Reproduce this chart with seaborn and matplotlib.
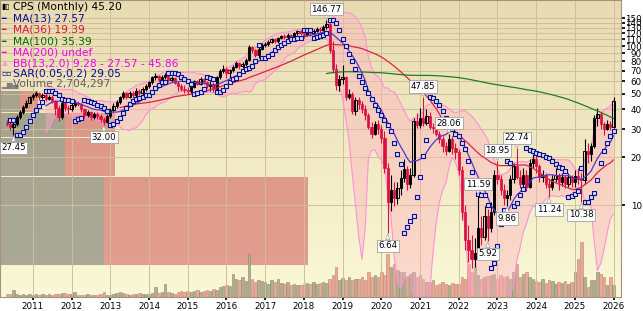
import numpy as np
import pandas as pd
import matplotlib
matplotlib.use("Agg")
import matplotlib.pyplot as plt
import seaborn as sns
from matplotlib.ticker import FixedLocator, NullLocator, FixedFormatter

sns.set_theme(style="white")
plt.rcParams["font.family"] = ["DejaVu Sans"]

# ---------------- data (monthly, starting May 2010) ----------------
start_month = "2010-05"
first_open = 33.0
close = [
    32.5, 31.0, 32.5, 36.0, 38.5, 41.5, 44.0, 47.5,
    49.0, 50.5, 47.5, 49.5, 46.5, 48.0, 45.0, 41.0, 36.0, 43.5, 41.0, 40.0,
    42.5, 44.0, 43.0, 40.0, 37.0, 38.5, 36.0, 37.5, 36.5, 35.0, 33.5, 36.5,
    39.5, 42.0, 44.5, 47.5, 50.5, 48.0, 51.0, 49.0, 52.5, 50.5, 53.5, 56.0,
    59.0, 63.5, 65.0, 61.0, 64.0, 65.5, 61.0, 63.0, 58.5, 56.0, 54.0, 53.0,
    52.0, 55.5, 60.0, 58.0, 62.0, 59.0, 56.0, 58.0, 54.0, 63.5, 70.0, 72.0,
    68.0, 70.5, 74.0, 78.0, 75.0, 77.0, 82.0, 98.0, 94.0, 88.0, 96.0, 101.0,
    103.0, 106.0, 110.0, 108.0, 112.0, 116.0, 114.0, 118.0, 115.0, 120.0, 124.0, 121.0,
    118.0, 123.0, 120.0, 125.0, 128.0, 126.0, 131.0, 137.0, 94.0, 72.0, 57.0, 62.0,
    64.0, 48.0, 50.0, 39.0, 46.0, 43.0, 40.0, 37.0, 31.0, 28.0, 32.5, 30.0,
    26.5, 17.0, 10.4, 12.4, 11.0, 12.8, 14.8, 16.8, 13.5, 15.5, 34.0, 32.0,
    35.5, 33.0, 36.5, 31.0, 30.5, 28.0, 26.0, 23.5, 22.0, 26.0, 23.0, 21.5,
    16.5, 9.0, 6.0, 5.2, 4.6, 5.0, 7.2, 6.3, 8.5, 7.2, 9.0, 15.5,
    14.5, 12.5, 11.0, 11.5, 14.5, 17.5, 15.0, 13.5, 15.5, 13.0, 18.5, 19.5,
    17.5, 15.0, 15.5, 13.5, 13.0, 14.5, 15.5, 14.0, 15.0, 13.5, 15.0, 14.0,
    15.2, 14.8, 14.3, 22.0, 21.0, 23.5, 35.5, 37.5, 32.5, 30.0, 32.5, 31.0,
    45.2,
]
high = [
    34.5, 33.5, 33.5, 37.0, 39.5, 42.5, 45.5, 48.5,
    51.0, 52.5, 51.5, 51.0, 50.5, 49.5, 49.5, 46.0, 42.5, 45.5, 45.0, 42.5,
    43.5, 45.5, 45.0, 44.0, 40.5, 39.5, 39.0, 38.5, 38.5, 37.5, 36.0, 37.5,
    40.5, 43.5, 46.0, 48.5, 52.0, 51.5, 52.5, 52.0, 54.5, 54.0, 55.0, 57.5,
    60.5, 65.0, 68.0, 66.0, 65.5, 67.5, 66.5, 64.5, 64.0, 60.0, 57.5, 56.5,
    55.0, 57.0, 61.0, 61.5, 63.5, 63.0, 60.0, 60.0, 59.0, 65.0, 72.0, 76.0,
    73.5, 72.0, 75.5, 80.5, 79.5, 79.0, 84.0, 101.0, 100.0, 96.0, 98.5, 104.0,
    106.0, 109.0, 113.0, 112.0, 114.0, 118.0, 118.5, 120.0, 119.5, 122.0, 127.0, 126.0,
    127.0, 126.0, 127.0, 128.0, 131.0, 132.0, 135.0, 146.77, 139.0, 107.0, 77.0, 66.0,
    76.0, 65.0, 54.0, 51.5, 48.0, 47.5, 45.0, 42.5, 38.0, 33.5, 34.0, 34.5,
    32.0, 29.0, 18.5, 15.5, 14.0, 14.0, 16.5, 19.5, 17.5, 17.0, 35.5, 38.0,
    41.0, 47.85, 40.0, 38.5, 33.0, 31.5, 29.0, 27.0, 25.0, 28.06, 27.0, 24.5,
    22.5, 17.5, 10.0, 7.5, 6.5, 6.2, 11.59, 8.5, 9.8, 9.5, 10.5, 16.5,
    18.95, 15.5, 13.5, 12.5, 15.5, 18.5, 22.74, 16.5, 17.0, 16.5, 19.5, 21.0,
    20.5, 18.0, 16.5, 16.0, 14.5, 15.5, 17.0, 16.0, 15.8, 15.5, 16.0, 15.5,
    16.5, 17.0, 16.0, 26.0, 24.5, 24.5, 37.0, 41.0, 38.5, 33.5, 34.5, 34.0,
    48.0,
]
low = [
    31.5, 29.5, 27.45, 31.5, 35.0, 37.5, 40.5, 43.5,
    46.0, 47.5, 45.5, 46.5, 45.0, 45.5, 44.0, 37.0, 34.0, 35.0, 39.0, 37.5,
    39.0, 41.5, 42.0, 38.5, 35.5, 36.0, 34.5, 35.0, 35.0, 33.5, 32.0, 33.0,
    35.5, 38.5, 41.0, 43.0, 46.5, 46.5, 47.0, 47.0, 48.0, 49.0, 49.5, 52.5,
    54.5, 57.5, 61.5, 59.0, 60.0, 62.0, 59.5, 59.5, 57.5, 52.5, 52.5, 50.5,
    50.0, 51.0, 54.5, 56.5, 57.0, 57.5, 54.5, 52.5, 51.5, 53.0, 62.0, 67.5,
    62.5, 63.0, 69.0, 72.5, 72.0, 73.0, 75.0, 80.0, 91.0, 85.0, 84.0, 94.5,
    98.0, 100.5, 104.0, 104.0, 105.0, 110.0, 110.5, 111.0, 112.0, 113.0, 118.0, 118.0,
    113.0, 115.0, 116.0, 117.0, 122.0, 121.0, 124.0, 128.0, 90.0, 68.0, 53.0, 52.0,
    58.0, 46.0, 46.5, 37.5, 37.0, 40.0, 38.0, 34.5, 30.0, 26.5, 27.5, 28.0,
    24.5, 16.0, 6.64, 9.2, 9.8, 10.2, 11.5, 14.0, 12.5, 12.8, 15.0, 30.5,
    30.5, 31.5, 32.0, 30.0, 28.5, 27.0, 24.5, 21.5, 20.5, 21.5, 21.0, 19.5,
    15.5, 8.0, 5.2, 4.4, 4.0, 4.1, 4.6, 5.6, 6.0, 5.92, 6.8, 8.6,
    13.5, 11.5, 10.0, 9.86, 10.8, 13.8, 14.5, 12.8, 13.0, 12.2, 12.8, 17.0,
    16.0, 14.0, 14.0, 12.8, 11.24, 12.5, 14.0, 12.5, 13.2, 12.8, 13.0, 13.0,
    13.0, 13.5, 10.38, 13.5, 18.5, 19.0, 23.0, 31.5, 30.0, 27.5, 29.5, 29.5,
    30.5,
]
volume_m = [  # millions of shares
    0.68, 0.68, 1.58, 0.68, 0.45, 0.68, 0.45, 0.68,
    0.45, 0.68, 0.45, 0.68, 0.45, 0.68, 0.45, 0.68, 0.68, 0.90, 0.90, 0.68,
    0.68, 1.13, 0.45, 0.45, 0.45, 0.68, 0.45, 0.45, 0.45, 0.68, 1.13, 0.45,
    0.45, 0.68, 0.90, 1.13, 0.90, 0.68, 0.45, 0.68, 0.68, 0.90, 0.68, 0.68,
    0.68, 0.90, 2.25, 0.90, 1.13, 2.93, 1.13, 0.90, 0.68, 1.13, 1.35, 1.13,
    1.35, 1.13, 1.35, 1.58, 1.13, 1.35, 1.58, 1.35, 1.80, 1.58, 2.25, 2.48,
    2.70, 2.48, 5.18, 4.05, 3.83, 4.50, 3.60, 9.68, 4.05, 3.38, 3.83, 3.60,
    3.38, 2.93, 3.83, 3.38, 4.05, 3.15, 2.93, 3.38, 2.70, 2.93, 2.70, 2.70,
    2.93, 3.15, 2.93, 3.38, 2.93, 3.15, 3.38, 3.15, 4.05, 4.95, 6.75, 3.83,
    4.28, 3.83, 4.50, 3.83, 4.05, 4.05, 4.50, 3.83, 5.63, 4.50, 4.95, 4.50,
    5.63, 4.95, 9.68, 6.75, 7.43, 6.08, 5.63, 5.63, 4.50, 5.18, 5.63, 4.50,
    4.95, 4.05, 3.38, 3.38, 3.83, 2.70, 2.93, 3.38, 2.93, 2.70, 3.15, 2.93,
    2.93, 4.50, 4.05, 7.43, 5.63, 6.75, 4.95, 4.05, 4.50, 4.73, 4.95, 5.18,
    4.05, 4.95, 4.50, 4.73, 4.05, 5.63, 7.43, 4.50, 5.18, 5.63, 4.50, 4.05,
    3.60, 3.38, 4.05, 3.15, 3.83, 3.60, 2.93, 3.38, 3.15, 3.60, 2.93, 3.38,
    5.63, 8.55, 12.38, 4.50, 2.25, 3.83, 3.83, 5.63, 5.18, 4.50, 2.70, 4.50,
    2.70,
]
years = list(range(2011, 2027))
price_ticks = [10, 20, 30, 40, 50, 60, 70, 80, 90, 100, 110, 120, 130, 140, 150]

# volume-by-price zones (price ranges) with up / down volume (millions)
vbp_lo = [4.2, 15.3, 26.7, 38.3]
vbp_hi = [15.0, 26.4, 37.9, 52.0]
vbp_up = [190, 118, 118, 37]
vbp_down = [370, 91, 91, 32]

annot_idx = [2, 30, 99, 118, 129, 137, 146, 149, 152, 155, 158, 168, 178]
annot_kind = ["low", "low", "high", "low", "high", "high", "high", "low",
              "high", "low", "high", "low", "low"]

legend_rows = [
    ("CPS (Monthly) 45.20", "#000000"),
    ("MA(13) 27.57", "#0a0a96"),
    ("MA(36) 19.39", "#e0103c"),
    ("MA(100) 35.39", "#006b00"),
    ("MA(200) undef", "#f000f0"),
    ("BB(13,2.0) 9.28 - 27.57 - 45.86", "#f000f0"),
    ("SAR(0.05,0.2) 29.05", "#0a0a96"),
    ("Volume 2,704,297", "#606060"),
]
legend_icons = ["▮▯", "━", "━", "━", "━", "▲", "▫▫", "▂▆▄"]
legend_icon_colors = ["#000000", "#0a0a96", "#e0103c", "#006b00", "#f000f0",
                      "#f7a0d0", "#0a0a96", "#808080"]

# ---------------- derived series ----------------
c = np.array(close)
h = np.array(high)
l = np.array(low)
o = np.concatenate([[first_open], c[:-1]])
n = len(c)
idx = np.arange(n)
periods = pd.period_range(start_month, periods=n, freq="M")
year_pos = [int(np.where((periods.year == y) & (periods.month == 1))[0][0]) for y in years]

s = pd.Series(c)
ma13 = s.rolling(13).mean()
ma36 = s.rolling(36).mean()
ma100 = s.rolling(100).mean()
sd13 = s.rolling(13).std(ddof=0)
bb_up = ma13 + 2 * sd13
bb_lo = ma13 - 2 * sd13


def psar(hh, ll, step=0.05, mx=0.2):
    out = np.full(len(hh), np.nan)
    up = True
    af = step
    ep = hh[0]
    out[0] = ll[0]
    for i in range(1, len(hh)):
        sv = out[i - 1] + af * (ep - out[i - 1])
        if up:
            sv = min(sv, ll[i - 1], ll[max(i - 2, 0)])
            if ll[i] < sv:
                up = False
                sv = ep
                ep = ll[i]
                af = step
            elif hh[i] > ep:
                ep = hh[i]
                af = min(af + step, mx)
        else:
            sv = max(sv, hh[i - 1], hh[max(i - 2, 0)])
            if hh[i] > sv:
                up = True
                sv = ep
                ep = hh[i]
                af = step
            elif ll[i] < ep:
                ep = ll[i]
                af = min(af + step, mx)
        out[i] = sv
    return out


sar = psar(h, l)

# ---------------- figure ----------------
W, H = 643, 311
fig = plt.figure(figsize=(W / 100, H / 100), dpi=100, facecolor="white")
plot_w, plot_h = 621, 297
pos = [0, 1 - plot_h / H, plot_w / W, plot_h / H]

bg = fig.add_axes(pos, zorder=-5)
top_col = np.array([232, 219, 178]) / 255
bot_col = np.array([250, 248, 214]) / 255
t = np.linspace(0, 1, 256)[:, None]
grad = top_col[None, :] * (1 - t[:, :, None]) + bot_col[None, :] * t[:, :, None]
bg.imshow(grad, aspect="auto", extent=(0, 1, 0, 1))
bg.set_axis_off()

ax = fig.add_axes(pos, zorder=3)
ax.set_yscale("log")
ax_b = ax.twiny()
ax_v = ax.twinx()
ax_b.set_zorder(1)
ax_v.set_zorder(2)
ax.set_zorder(3)
for a in (ax, ax_b, ax_v):
    a.patch.set_visible(False)

# volume by price
zone_h = np.array(vbp_hi) - np.array(vbp_lo)
ax_b.barh(vbp_lo, vbp_up, height=zone_h, align="edge", color="#76776f", alpha=0.6, lw=0)
ax_b.barh(vbp_lo, vbp_down, left=vbp_up, height=zone_h, align="edge",
          color="#d36361", alpha=0.6, lw=0)
ax_b.set_xlim(0, 1130)
ax_b.set_axis_off()

# volume
upv = c >= o
vcol = np.where(upv, "#b3ae92", "#e9a896")
vedge = np.where(upv, "#8b8670", "#c9806e")
ax_v.bar(idx, volume_m, width=0.78, color=vcol, edgecolor=vedge, lw=0.4)
ax_v.set_ylim(0, 66.8)
ax_v.set_axis_off()

# Bollinger band
ax.fill_between(idx, bb_lo, bb_up, color="#ffb0c0", alpha=0.42, lw=0, zorder=1)
sns.lineplot(x=idx, y=bb_up, ax=ax, color="#ff90d8", lw=0.8, zorder=2)
sns.lineplot(x=idx, y=bb_lo, ax=ax, color="#ff90d8", lw=0.8, zorder=2)

# candles
up = c >= o
wick_col = np.where(up, "#000000", "#d8103c")
ax.vlines(idx, l, h, colors=wick_col, lw=0.8, zorder=3)
body_lo = np.minimum(o, c)
body_h = np.maximum(np.abs(c - o), 0.004 * c)
ax.bar(idx[up], body_h[up], bottom=body_lo[up], width=0.7, facecolor="none",
       edgecolor="#000000", lw=0.7, zorder=3.1)
ax.bar(idx[~up], body_h[~up], bottom=body_lo[~up], width=0.7, facecolor="#dc1040",
       edgecolor="#dc1040", lw=0.5, zorder=3.1)

# moving averages
sns.lineplot(x=idx, y=ma36, ax=ax, color="#e0204a", lw=0.9, zorder=4)
sns.lineplot(x=idx, y=ma100, ax=ax, color="#1f7f1f", lw=0.9, zorder=4)
sns.lineplot(x=idx, y=ma13, ax=ax, color="#5038c8", lw=0.9, zorder=4)

# parabolic SAR
sns.scatterplot(x=idx[1:], y=sar[1:], ax=ax, marker="s", s=5, facecolor="#d0d8ff",
                edgecolor="#10108a", linewidth=0.8, zorder=5)

# annotations
for i, kind in zip(annot_idx, annot_kind):
    val = h[i] if kind == "high" else l[i]
    off = 7.5 if kind == "high" else -9.0
    ax.annotate(f"{val:.2f}", xy=(i, val), xytext=(0, off), textcoords="offset points",
                ha="center", va="center", fontsize=6.2, color="#000000", zorder=10,
                bbox=dict(boxstyle="square,pad=0.18", fc="white", ec="#a0a0a0", lw=0.6),
                arrowprops=dict(arrowstyle="wedge,tail_width=0.45,shrink_factor=0.6",
                                fc="white", ec="#a0a0a0", lw=0.5, shrinkA=0, shrinkB=0.5),
                annotation_clip=False)

# axes, ticks, grid
ax.set_xlim(-2.17, 190.3)
ax.set_ylim(2.64, 194.7)
ax.yaxis.tick_right()
ax.yaxis.set_major_locator(FixedLocator(price_ticks))
ax.yaxis.set_major_formatter(FixedFormatter([str(v) for v in price_ticks]))
ax.yaxis.set_minor_locator(NullLocator())
ax.tick_params(axis="y", which="major", length=3, pad=12, labelsize=6.3,
               colors="#000000", right=True, left=False)
for lab in ax.get_yticklabels():
    lab.set_horizontalalignment("right")
ax.set_xticks(year_pos)
ax.set_xticklabels([str(y) for y in years])
ax.tick_params(axis="x", length=2, pad=1.5, labelsize=6.3, colors="#000000", bottom=True)
ax.set_axisbelow(True)
ax.grid(True, which="major", color="#d0bf98", lw=0.7)
for sp in ax.spines.values():
    sp.set_color("#a89080")
    sp.set_linewidth(0.8)
ax.set_xlabel("")
ax.set_ylabel("")

# legend block (top-left)
row_y = [6.5, 18.5, 30, 41.5, 52.5, 63, 74, 84.5]
for (txt, col), ic, icc, yy in zip(legend_rows, legend_icons, legend_icon_colors, row_y):
    yf = 1 - yy / plot_h
    ax.text(1.5 / plot_w, yf, ic, transform=ax.transAxes, fontsize=5.5, color=icc,
            va="center", ha="left", zorder=11)
    ax.text(13 / plot_w, yf, txt, transform=ax.transAxes, fontsize=7.7, color=col,
            va="center", ha="left", zorder=11)

fig.savefig("out.png", dpi=100, facecolor="white")
